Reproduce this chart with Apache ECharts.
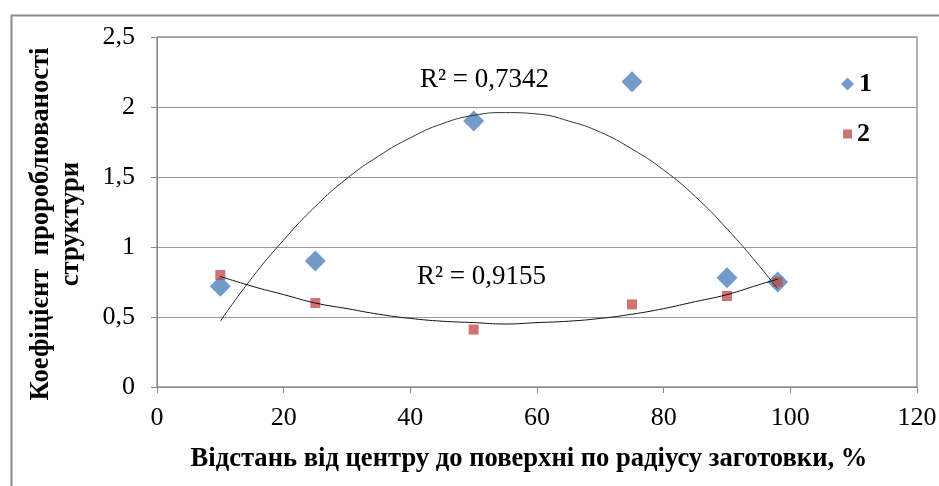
<!DOCTYPE html>
<html><head><meta charset="utf-8">
<script src="https://cdn.jsdelivr.net/npm/echarts@6/dist/echarts.min.js"></script>
<style>html,body{margin:0;padding:0;background:#fff}#c{width:939px;height:486px}</style>
</head><body><div id="c"></div>
<script>
const xValues = [10, 25, 50, 75, 90, 98];
const series1 = [0.72, 0.9, 1.9, 2.18, 0.78, 0.75];
const series2 = [0.8, 0.6, 0.41, 0.59, 0.65, 0.75];
const trendX = [10, 15, 20, 25, 30, 35, 40, 45, 50, 55, 60, 65, 70, 75, 80, 85, 90, 95, 98];
const trend1 = [0.47, 0.78, 1.05, 1.29, 1.49, 1.65, 1.78, 1.88, 1.94, 1.96, 1.95, 1.90, 1.82, 1.70, 1.55, 1.36, 1.13, 0.87, 0.70];
const trend2 = [0.79, 0.72, 0.66, 0.60, 0.56, 0.52, 0.49, 0.47, 0.46, 0.45, 0.46, 0.47, 0.49, 0.52, 0.56, 0.61, 0.66, 0.73, 0.77];
const seriesNames = ['1', '2'];
const r2Labels = ['R² = 0,7342', 'R² = 0,9155'];
const xTitle = 'Відстань від центру до поверхні по радіусу заготовки, %';
const yTitle = 'Коефіцієнт  пророблюваності\nструктури';

const pair = (xs, ys) => xs.map((x, i) => [x, ys[i]]);
const serif = 'Liberation Serif';
const legendText = { color: '#000', fontFamily: serif, fontSize: 26, fontWeight: 'bold' };
const chart = echarts.init(document.getElementById('c'));
chart.setOption({
  animation: false,
  grid: { left: 157, right: 22, top: 37, bottom: 99, show: true, borderColor: '#666', borderWidth: 1,
    outerBoundsMode: 'none', containLabel: false },
  xAxis: {
    type: 'value', min: 0, max: 120, interval: 20,
    axisLine: { show: true, lineStyle: { color: '#888' } },
    axisTick: { show: true, length: 6, lineStyle: { color: '#888' } },
    splitLine: { show: false },
    axisLabel: { color: '#000', fontFamily: serif, fontSize: 26, margin: 18 },
    name: xTitle, nameLocation: 'middle', nameGap: 59,
    nameTextStyle: { color: '#000', fontFamily: serif, fontSize: 26.6, fontWeight: 'bold', padding: [0, 16, 0, 0] }
  },
  yAxis: {
    type: 'value', min: 0, max: 2.5, interval: 0.5,
    axisLine: { show: true, lineStyle: { color: '#888' } },
    axisTick: { show: true, length: 6, lineStyle: { color: '#888' } },
    splitLine: { show: true, lineStyle: { color: '#999', width: 1 } },
    axisLabel: { color: '#000', fontFamily: serif, fontSize: 26, margin: 22,
      formatter: v => String(v).replace('.', ',') },
    name: yTitle, nameLocation: 'middle', nameGap: 71, nameRotate: 90,
    nameTextStyle: { color: '#000', fontFamily: serif, fontSize: 26.6, fontWeight: 'bold', lineHeight: 30, padding: [0, 24, 0, 0] }
  },
  legend: [
    { orient: 'vertical', left: 836, top: 66, itemWidth: 13, itemHeight: 13, textStyle: legendText,
      data: [{ name: seriesNames[0], icon: 'diamond' }] },
    { orient: 'vertical', left: 838, top: 116, itemWidth: 9, itemHeight: 9, textStyle: legendText,
      data: [{ name: seriesNames[1], icon: 'rect' }] }
  ],
  graphic: [
    { type: 'rect', left: 9, top: 13, shape: { width: 1000, height: 1000 }, style: { fill: 'none', stroke: '#888', lineWidth: 2 }, z: -1 },
    { type: 'text', left: 420, top: 66, style: { text: r2Labels[0], font: '27px "Liberation Serif"', fill: '#000' } },
    { type: 'text', left: 417, top: 263, style: { text: r2Labels[1], font: '27px "Liberation Serif"', fill: '#000' } }
  ],
  series: [
    { name: seriesNames[0], type: 'scatter', symbol: 'diamond', symbolSize: 21,
      itemStyle: { color: '#4F81BD' }, data: pair(xValues, series1), z: 2 },
    { name: seriesNames[1], type: 'scatter', symbol: 'rect', symbolSize: 10,
      itemStyle: { color: '#C0504D' }, data: pair(xValues, series2), z: 3 },
    { name: 'trend1', type: 'line', smooth: true, showSymbol: false, silent: true,
      lineStyle: { color: '#333', width: 1 }, data: pair(trendX, trend1), z: 4 },
    { name: 'trend2', type: 'line', smooth: true, showSymbol: false, silent: true,
      lineStyle: { color: '#111', width: 1 }, data: pair(trendX, trend2), z: 4 }
  ]
});
</script></body></html>
